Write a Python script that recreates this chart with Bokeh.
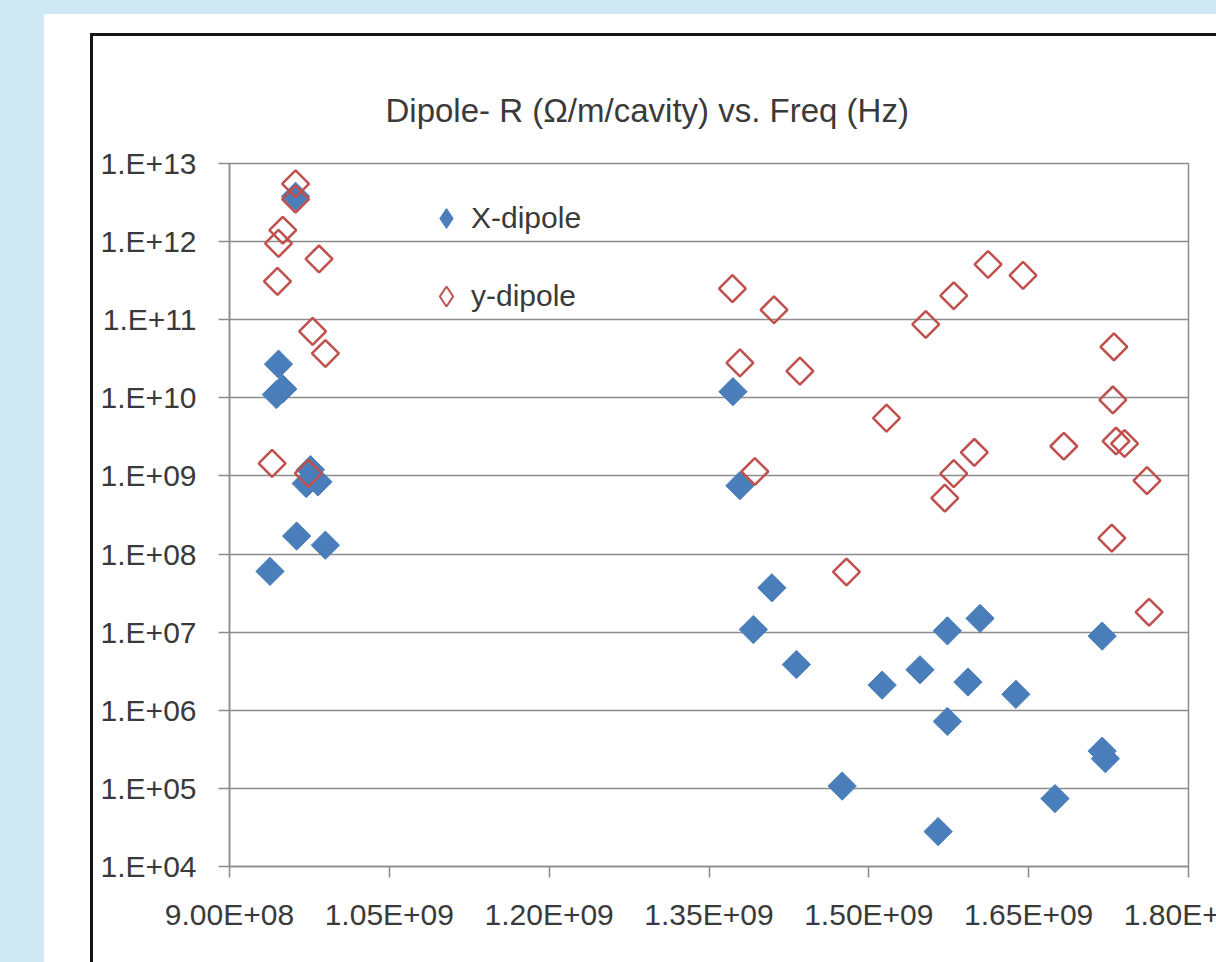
from bokeh.plotting import figure
from bokeh.layouts import column
from bokeh.models import Legend, LegendItem, FixedTicker, Range1d
from bokeh.embed import file_html
from bokeh.resources import INLINE

# ---- data ----
x_dipole_freq = [9.38e8, 9.63e8, 9.90e8, 9.76e8, 9.83e8, 9.72e8, 9.46e8, 9.44e8, 9.50e8, 9.62e8,
                 1.3725e9, 1.379e9, 1.409e9, 1.3916e9, 1.432e9, 1.475e9, 1.5125e9, 1.548e9,
                 1.5737e9, 1.5737e9, 1.565e9, 1.6044e9, 1.593e9, 1.638e9, 1.6747e9, 1.719e9,
                 1.719e9, 1.722e9]
x_dipole_r = [6.0e7, 1.7e8, 1.3e8, 1.2e9, 8.4e8, 8.0e8, 2.7e10, 1.1e10, 1.3e10, 3.8e12,
              1.2e10, 7.5e8, 3.7e7, 1.08e7, 3.85e6, 1.07e5, 2.1e6, 3.3e6,
              1.04e7, 7.2e5, 2.8e4, 1.5e7, 2.3e6, 1.6e6, 7.4e4, 8.9e6,
              3.0e5, 2.4e5]

y_dipole_freq = [9.62e8, 9.62e8, 9.50e8, 9.46e8, 9.45e8, 9.84e8, 9.78e8, 9.90e8, 9.40e8, 9.74e8,
                 1.372e9, 1.411e9, 1.379e9, 1.4353e9, 1.5166e9, 1.393e9, 1.479e9, 1.5534e9,
                 1.5797e9, 1.6119e9, 1.599e9, 1.5797e9, 1.5713e9, 1.6447e9, 1.730e9, 1.729e9,
                 1.683e9, 1.732e9, 1.740e9, 1.761e9, 1.728e9, 1.763e9]
y_dipole_r = [5.5e12, 3.5e12, 1.4e12, 9.5e11, 3.1e11, 6.0e11, 7.1e10, 3.7e10, 1.45e9, 1.08e9,
              2.5e11, 1.34e11, 2.8e10, 2.2e10, 5.5e9, 1.14e9, 5.9e7, 8.7e10,
              2.03e11, 5.1e11, 2.0e9, 1.07e9, 5.2e8, 3.7e11, 4.5e10, 9.4e9,
              2.4e9, 2.8e9, 2.6e9, 8.7e8, 1.6e8, 1.8e7]

x_ticks = [9.0e8, 1.05e9, 1.2e9, 1.35e9, 1.5e9, 1.65e9, 1.8e9]
x_tick_labels = ["9.00E+08", "1.05E+09", "1.20E+09", "1.35E+09", "1.50E+09", "1.65E+09", "1.80E+09"]
y_ticks = [1e4, 1e5, 1e6, 1e7, 1e8, 1e9, 1e10, 1e11, 1e12, 1e13]
y_tick_labels = ["1.E+04", "1.E+05", "1.E+06", "1.E+07", "1.E+08", "1.E+09",
                 "1.E+10", "1.E+11", "1.E+12", "1.E+13"]

title_text = "Dipole- R (\u03a9/m/cavity) vs. Freq (Hz)"
series_names = ["X-dipole", "y-dipole"]

FONT = "Liberation Sans"
TXT = "#3a3a3a"
BLUE = "#4a7ebb"
RED = "#c0504d"
GRID = "#8c8c8c"
PAGE_BG = "#cfe9f4"

p = figure(frame_width=959, frame_height=703,
           min_border_left=136, min_border_right=70, min_border_top=127, min_border_bottom=99,
           x_range=Range1d(9.0e8, 1.8e9), y_range=Range1d(1e4, 1e13), y_axis_type="log",
           output_backend="svg", toolbar_location=None,
           styles={"border-left": "3px solid #151515", "border-top": "3px solid #151515",
                   "flex-shrink": "0", "min-width": "1165px"})

p.border_fill_color = "white"
p.background_fill_color = "white"
p.outline_line_color = GRID
p.outline_line_width = 1.5

# title
p.title.text = title_text
p.title.align = "left"
p.title.offset = 156
p.title.standoff = 69
p.title.text_font = FONT
p.title.text_font_size = "33px"
p.title.text_font_style = "normal"
p.title.text_color = TXT

# axes
xa = p.xaxis[0]
xa.ticker = FixedTicker(ticks=x_ticks, minor_ticks=[])
xa.major_label_overrides = {t: l for t, l in zip(x_ticks, x_tick_labels)}
ya = p.yaxis[0]
ya.ticker = FixedTicker(ticks=y_ticks, minor_ticks=[])
ya.major_label_overrides = {t: l for t, l in zip(y_ticks, y_tick_labels)}
for ax in (xa, ya):
    ax.axis_line_color = GRID
    ax.axis_line_width = 1.5
    ax.major_tick_line_color = GRID
    ax.major_tick_line_width = 1.5
    ax.major_tick_in = 0
    ax.major_tick_out = 11
    ax.minor_tick_line_color = None
    ax.major_label_text_font = FONT
    ax.major_label_text_font_size = "30px"
    ax.major_label_text_color = TXT
xa.major_label_standoff = 20
ya.major_label_standoff = 22

p.xgrid.grid_line_color = None
p.ygrid.ticker = FixedTicker(ticks=y_ticks)
p.ygrid.grid_line_color = GRID
p.ygrid.grid_line_width = 1.5

p.scatter(x_dipole_freq, x_dipole_r, marker="square", angle=0.7854, size=20,
          fill_color=BLUE, line_color=BLUE, line_width=1)
p.scatter(y_dipole_freq, y_dipole_r, marker="square", angle=0.7854, size=19,
          fill_color=None, line_color=RED, line_width=2.5)

# legend swatches: diamond glyphs of zero size (only their legend glyph is visible)
lx = p.scatter(x_dipole_freq[:1], x_dipole_r[:1], marker="diamond", size=0,
               fill_color=BLUE, line_color=BLUE, line_width=1)
ly = p.scatter(x_dipole_freq[:1], x_dipole_r[:1], marker="diamond", size=0,
               fill_color=None, line_color=RED, line_width=2)

legend = Legend(items=[LegendItem(label=series_names[0], renderers=[lx]),
                       LegendItem(label=series_names[1], renderers=[ly])],
                location=(192, 545), orientation="vertical",
                glyph_width=50, glyph_height=50, label_height=50, spacing=28,
                padding=0, margin=0, label_standoff=0,
                label_text_font=FONT, label_text_font_size="30px", label_text_color=TXT,
                border_line_color=None, background_fill_alpha=0)
p.add_layout(legend, "center")

inner = column(p, styles={"background-color": "white", "padding-left": "46px", "padding-top": "19px"})
page = column(inner, styles={"background-color": PAGE_BG, "padding-left": "44px", "padding-top": "14px",
                             "width": "1216px", "height": "962px", "overflow": "hidden",
                             "box-sizing": "border-box"})

open("out.html", "w").write(file_html(page, INLINE))
